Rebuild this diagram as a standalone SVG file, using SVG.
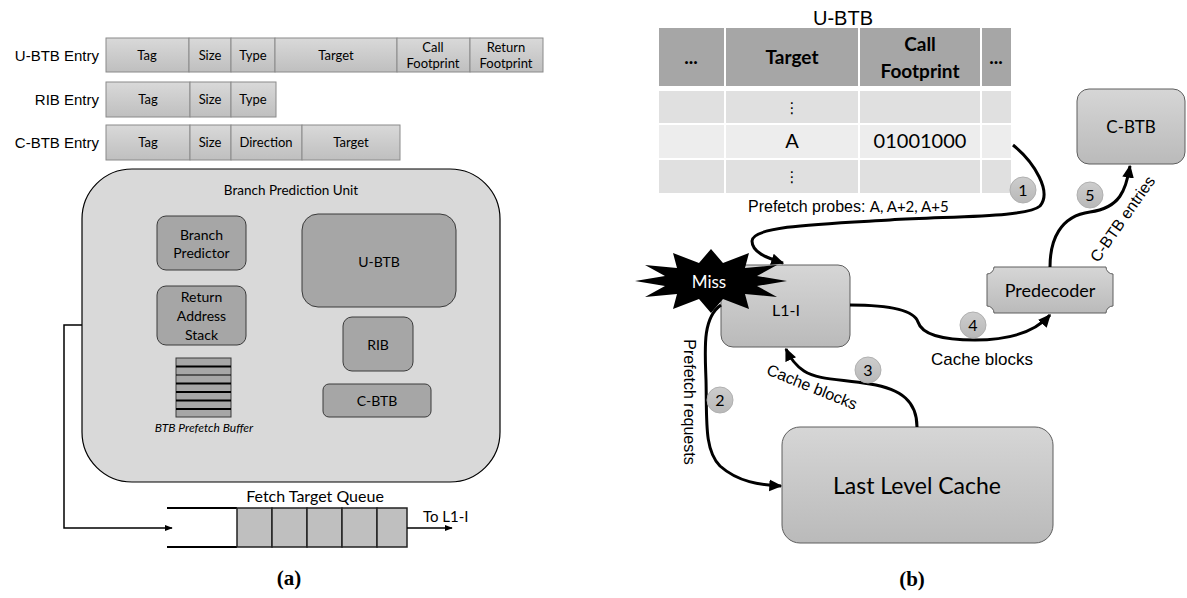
<svg xmlns="http://www.w3.org/2000/svg" width="1187" height="598" viewBox="0 0 1187 598">
  <defs>
    <linearGradient id="cellFill" x1="0" y1="0" x2="0" y2="1">
      <stop offset="0" stop-color="#d9d9d9"/>
      <stop offset="1" stop-color="#bfbfbf"/>
    </linearGradient>
    <linearGradient id="boxFill" x1="0" y1="0" x2="0" y2="1">
      <stop offset="0" stop-color="#d6d6d6"/>
      <stop offset="1" stop-color="#bababa"/>
    </linearGradient>
    <linearGradient id="dotFill" x1="0" y1="0" x2="0" y2="1">
      <stop offset="0" stop-color="#cdcdcd"/>
      <stop offset="1" stop-color="#b8b8b8"/>
    </linearGradient>
    <marker id="ahThick" viewBox="0 0 10 10" refX="9" refY="5" markerWidth="13" markerHeight="13" markerUnits="userSpaceOnUse" orient="auto">
      <path d="M0,0.5 L10,5 L0,9.5 Z" fill="#000"/>
    </marker>
    <marker id="ahThin" viewBox="0 0 10 10" refX="9" refY="5" markerWidth="8" markerHeight="8" markerUnits="userSpaceOnUse" orient="auto">
      <path d="M0,1 L10,5 L0,9 Z" fill="#000"/>
    </marker>
  </defs>
  <style>
    .lbl { font-family: "Liberation Sans", Arial, sans-serif; fill: #000; }
    .cal { font-family: Lato, "Open Sans", sans-serif; fill: #000; }
    .cell { fill: url(#cellFill); stroke: #8a8a8a; stroke-width: 1; }
    .bpu { fill: #d9d9d9; stroke: #000; stroke-width: 1.2; }
    .inner { fill: #a6a6a6; stroke: #3a3a3a; stroke-width: 1; }
    .box { fill: url(#boxFill); stroke: #5e5e5e; stroke-width: 1; }
    .dot { fill: url(#dotFill); stroke: #b0b0b0; stroke-width: 1; }
    .flow { fill: none; stroke: #000; stroke-width: 3; }
    .wire { fill: none; stroke: #000; stroke-width: 1.5; }
    .hdr { fill: #a6a6a6; }
    .rowA { fill: #e0e0e0; }
    .rowB { fill: #ededed; }
    .cap { font-family: "Liberation Serif", "Times New Roman", serif; font-weight: bold; font-size: 21px; }
  </style>

  <!-- ===== (a) entry formats ===== -->
  <g id="ubtb-entry">
    <text class="lbl" x="99" y="61" font-size="15" text-anchor="end">U-BTB Entry</text>
    <rect class="cell" x="106" y="38" width="83" height="34"/>
    <rect class="cell" x="189" y="38" width="42" height="34"/>
    <rect class="cell" x="231" y="38" width="44" height="34"/>
    <rect class="cell" x="275" y="38" width="122" height="34"/>
    <rect class="cell" x="397" y="38" width="73" height="34"/>
    <rect class="cell" x="470" y="38" width="73" height="34"/>
    <g class="cal" font-size="13" text-anchor="middle">
      <text x="147" y="60">Tag</text>
      <text x="210" y="60">Size</text>
      <text x="253" y="60">Type</text>
      <text x="336" y="60">Target</text>
      <text x="433" y="52">Call</text>
      <text x="433" y="68">Footprint</text>
      <text x="506" y="52">Return</text>
      <text x="506" y="68">Footprint</text>
    </g>
  </g>

  <g id="rib-entry">
    <text class="lbl" x="99" y="105" font-size="15" text-anchor="end">RIB Entry</text>
    <rect class="cell" x="106" y="82" width="84" height="35"/>
    <rect class="cell" x="190" y="82" width="41" height="35"/>
    <rect class="cell" x="231" y="82" width="45" height="35"/>
    <g class="cal" font-size="13" text-anchor="middle">
      <text x="148" y="104">Tag</text>
      <text x="210" y="104">Size</text>
      <text x="253" y="104">Type</text>
    </g>
  </g>

  <g id="cbtb-entry">
    <text class="lbl" x="99" y="148" font-size="15" text-anchor="end">C-BTB Entry</text>
    <rect class="cell" x="106" y="125" width="84" height="35"/>
    <rect class="cell" x="190" y="125" width="41" height="35"/>
    <rect class="cell" x="231" y="125" width="71" height="35"/>
    <rect class="cell" x="302" y="125" width="98" height="35"/>
    <g class="cal" font-size="13" text-anchor="middle">
      <text x="148" y="147">Tag</text>
      <text x="210" y="147">Size</text>
      <text x="266" y="147">Direction</text>
      <text x="351" y="147">Target</text>
    </g>
  </g>

  <!-- ===== (a) branch prediction unit ===== -->
  <g id="bpu">
    <rect class="bpu" x="82" y="169" width="418" height="313" rx="50" ry="50"/>
    <text class="cal" x="291" y="195" font-size="13.5" text-anchor="middle">Branch Prediction Unit</text>
  </g>

  <g id="branch-predictor">
    <rect class="inner" x="157" y="216" width="89" height="54" rx="9"/>
    <text class="cal" x="201.5" y="240" font-size="14" text-anchor="middle">Branch</text>
    <text class="cal" x="201.5" y="258" font-size="14" text-anchor="middle">Predictor</text>
  </g>

  <g id="ras">
    <rect class="inner" x="157" y="286" width="89" height="59" rx="9"/>
    <text class="cal" x="201.5" y="302" font-size="14" text-anchor="middle">Return</text>
    <text class="cal" x="201.5" y="321" font-size="14" text-anchor="middle">Address</text>
    <text class="cal" x="201.5" y="340" font-size="14" text-anchor="middle">Stack</text>
  </g>

  <g id="ubtb-a">
    <rect class="inner" x="302" y="214" width="154" height="93" rx="16"/>
    <text class="cal" x="379" y="267" font-size="14" text-anchor="middle">U-BTB</text>
  </g>

  <g id="rib-a">
    <rect class="inner" x="343" y="317" width="70" height="54" rx="9"/>
    <text class="cal" x="378" y="350" font-size="14" text-anchor="middle">RIB</text>
  </g>

  <g id="cbtb-a">
    <rect class="inner" x="323" y="384" width="108" height="33" rx="6"/>
    <text class="cal" x="377" y="406" font-size="14" text-anchor="middle">C-BTB</text>
  </g>

  <g id="prefetch-buffer">
    <rect x="176" y="358" width="55" height="59" fill="#a6a6a6" stroke="#3a3a3a" stroke-width="1"/>
    <g stroke="#000" stroke-width="2">
      <line x1="176" y1="366.5" x2="231" y2="366.5"/>
      <line x1="176" y1="375" x2="231" y2="375" stroke-width="1"/>
      <line x1="176" y1="383.5" x2="231" y2="383.5"/>
      <line x1="176" y1="392" x2="231" y2="392"/>
      <line x1="176" y1="400.5" x2="231" y2="400.5"/>
      <line x1="176" y1="409" x2="231" y2="409"/>
    </g>
    <text class="cal" x="204" y="432" font-size="12" font-style="italic" text-anchor="middle">BTB Prefetch Buffer</text>
  </g>

  <!-- ===== (a) fetch target queue ===== -->
  <g id="ftq">
    <text class="cal" x="315" y="502" font-size="16" text-anchor="middle">Fetch Target Queue</text>
    <line x1="167" y1="508" x2="237" y2="508" stroke="#000" stroke-width="2"/>
    <line x1="167" y1="547" x2="237" y2="547" stroke="#000" stroke-width="2"/>
    <g fill="#bfbfbf" stroke="#222" stroke-width="1.5">
      <rect x="237" y="508" width="35" height="39"/>
      <rect x="272" y="508" width="35" height="39"/>
      <rect x="307" y="508" width="35" height="39"/>
      <rect x="342" y="508" width="35" height="39"/>
      <rect x="377" y="508" width="30" height="39"/>
    </g>
    <text class="cal" x="423" y="522" font-size="15">To L1-I</text>
  </g>

  <g id="connectors-a">
    <polyline class="wire" points="82,325 64,325 64,528 172,528" marker-end="url(#ahThin)"/>
    <line class="wire" x1="407" y1="528" x2="452" y2="528" marker-end="url(#ahThin)"/>
  </g>

  <text class="cap" x="289" y="585" text-anchor="middle">(a)</text>

  <!-- ===== (b) U-BTB table ===== -->
  <g id="ubtb-table">
    <text class="lbl" x="843" y="25" font-size="20" text-anchor="middle">U-BTB</text>
    <g stroke="#fff" stroke-width="2">
      <rect class="hdr" x="658" y="27" width="67" height="60"/>
      <rect class="hdr" x="725" y="27" width="134" height="60"/>
      <rect class="hdr" x="859" y="27" width="122" height="60"/>
      <rect class="hdr" x="981" y="27" width="31" height="60"/>
      <rect class="rowA" x="658" y="90" width="67" height="34"/>
      <rect class="rowA" x="725" y="90" width="134" height="34"/>
      <rect class="rowA" x="859" y="90" width="122" height="34"/>
      <rect class="rowA" x="981" y="90" width="31" height="34"/>
      <rect class="rowB" x="658" y="124" width="67" height="35"/>
      <rect class="rowB" x="725" y="124" width="134" height="35"/>
      <rect class="rowB" x="859" y="124" width="122" height="35"/>
      <rect class="rowB" x="981" y="124" width="31" height="35"/>
      <rect class="rowA" x="658" y="159" width="67" height="35"/>
      <rect class="rowA" x="725" y="159" width="134" height="35"/>
      <rect class="rowA" x="859" y="159" width="122" height="35"/>
      <rect class="rowA" x="981" y="159" width="31" height="35"/>
    </g>
    <g class="cal" font-weight="bold" font-size="19" text-anchor="middle">
      <text x="691" y="64">...</text>
      <text x="792" y="64">Target</text>
      <text x="920" y="51">Call</text>
      <text x="920" y="78">Footprint</text>
      <text x="996" y="64">...</text>
    </g>
    <text x="792" y="113" font-family="DejaVu Sans, sans-serif" font-size="15" text-anchor="middle">⋮</text>
    <text class="cal" x="792" y="148" font-size="20" text-anchor="middle">A</text>
    <text class="cal" x="920" y="148" font-size="20" text-anchor="middle">01001000</text>
    <text x="792" y="182" font-family="DejaVu Sans, sans-serif" font-size="15" text-anchor="middle">⋮</text>
  </g>

  <!-- ===== (b) blocks ===== -->
  <g id="cbtb-b">
    <rect class="box" x="1077" y="89" width="108" height="75" rx="12"/>
    <text class="cal" x="1131" y="133" font-size="17" text-anchor="middle">C-BTB</text>
  </g>

  <g id="l1i">
    <rect class="box" x="721" y="265" width="129" height="82" rx="12"/>
    <text class="cal" x="786" y="316" font-size="16" text-anchor="middle">L1-I</text>
  </g>

  <g id="miss">
    <polygon fill="#000" points="787,281 757,286 777,297 745,294 749,309 723,299 711,313 699,299 673,309 677,294 645,297 665,286 635,281 665,276 645,265 677,268 673,253 699,263 711,249 723,263 749,253 745,268 777,265 757,276"/>
    <text class="cal" x="709" y="288" font-size="17" style="fill:#fff" text-anchor="middle">Miss</text>
  </g>

  <g id="predecoder">
    <path class="box" d="M994,267 H1106 A7,7 0 0 0 1113,274 V306 A7,7 0 0 0 1106,313 H994 A7,7 0 0 0 987,306 V274 A7,7 0 0 0 994,267 Z"/>
    <text class="cal" x="1050" y="297" font-size="18" text-anchor="middle">Predecoder</text>
  </g>

  <g id="llc">
    <rect class="box" x="782" y="427" width="271" height="116" rx="18"/>
    <text class="cal" x="917" y="494" font-size="23" text-anchor="middle">Last Level Cache</text>
  </g>

  <!-- ===== (b) flows ===== -->
  <g id="connectors-b">
    <path class="flow" d="M1013,145 C1035,163 1052,192 1040,206 C1028,217 960,216 890,220 C820,224 752,226 752,241 C752,253 768,258 783,263" marker-end="url(#ahThick)"/>
    <path class="flow" d="M721,305 C702,318 705,350 706,380 C707,420 704,450 720,466 C738,482 760,485 781,486" marker-end="url(#ahThick)"/>
    <path class="flow" d="M917,427 C917,402 902,389 870,384 C840,379 818,380 804,371 C795,365 790,358 786,349" marker-end="url(#ahThick)"/>
    <path class="flow" d="M850,305 C890,305 914,310 918,322 C922,335 942,340 975,340 C1010,340 1035,332 1050,315" marker-end="url(#ahThick)"/>
    <path class="flow" d="M1050,267 C1050,240 1060,216 1090,212 C1120,208 1126,190 1130,166" marker-end="url(#ahThick)"/>
  </g>

  <g id="step-badges">
    <circle class="dot" cx="1023" cy="190" r="13"/>
    <circle class="dot" cx="720" cy="400" r="13"/>
    <circle class="dot" cx="868" cy="370" r="13"/>
    <circle class="dot" cx="973" cy="325" r="13"/>
    <circle class="dot" cx="1090" cy="195" r="13"/>
    <g class="cal" font-size="16" text-anchor="middle">
      <text x="1023" y="196">1</text>
      <text x="720" y="406">2</text>
      <text x="868" y="376">3</text>
      <text x="973" y="331">4</text>
      <text x="1090" y="201">5</text>
    </g>
  </g>

  <g id="flow-labels">
    <text class="lbl" x="748" y="212" font-size="16">Prefetch probes: <tspan font-family="Lato, sans-serif" font-size="15">A, A+2, A+5</tspan></text>
    <text class="lbl" x="0" y="0" font-size="16" text-anchor="middle" transform="translate(684,402) rotate(90)">Prefetch requests</text>
    <text class="lbl" x="0" y="0" font-size="16" text-anchor="middle" transform="translate(810,392) rotate(22)">Cache blocks</text>
    <text class="lbl" x="982" y="365" font-size="17" text-anchor="middle">Cache blocks</text>
    <text class="lbl" x="0" y="0" font-size="16" text-anchor="middle" transform="translate(1127,222) rotate(-55)">C-BTB entries</text>
  </g>

  <text class="cap" x="912" y="586" text-anchor="middle">(b)</text>
</svg>
